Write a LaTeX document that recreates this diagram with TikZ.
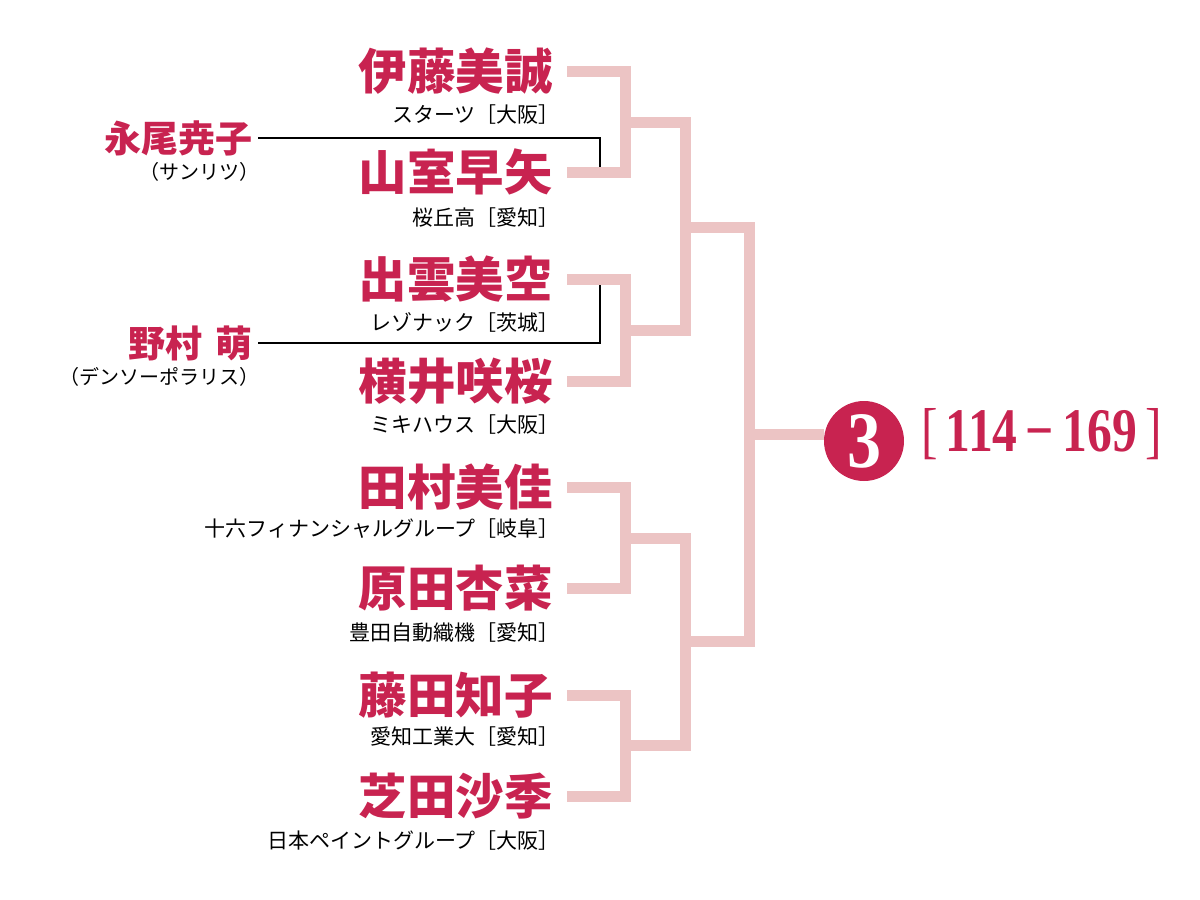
\documentclass[tikz,border=0pt]{standalone}
\usepackage{fontspec}
\newfontfamily\jpfont{Noto Sans CJK JP}
\newfontfamily\numfont{Liberation Serif}
\definecolor{crimson}{RGB}{200,35,80}
\definecolor{rosepink}{RGB}{236,196,196}
\tikzset{
  player/.style={anchor=east, inner sep=0pt, text=crimson, font=\jpfont\bfseries\fontsize{48.5}{48.5}\selectfont},
  club/.style={anchor=east, inner sep=0pt, font=\jpfont\fontsize{21}{21}\selectfont},
  seed/.style={anchor=east, inner sep=0pt, text=crimson, font=\jpfont\bfseries\fontsize{37}{37}\selectfont},
  seedclub/.style={anchor=east, inner sep=0pt, font=\jpfont\fontsize{20}{20}\selectfont},
  bracket/.style={rosepink, line width=11pt},
  byline/.style={black, line width=2pt}
}
\begin{document}
\begin{tikzpicture}[x=1pt, y=-1pt]
\useasboundingbox (0,0) rectangle (1200,900);

\node[player] (p1) at (553,71) {伊藤美誠};
\node[club] at (560,115) {スターツ［大阪］};
\node[player] (p2) at (553,172) {山室早矢};
\node[club] at (560,218) {桜丘高［愛知］};
\node[player] (p3) at (553,279) {出雲美空};
\node[club] at (560,322) {レゾナック［茨城］};
\node[player] (p4) at (553,381) {横井咲桜};
\node[club] at (560,425) {ミキハウス［大阪］};
\node[player] (p5) at (553,487) {田村美佳};
\node[club] at (560,529) {十六フィナンシャルグループ［岐阜］};
\node[player] (p6) at (553,588) {原田杏菜};
\node[club] at (560,633) {豊田自動織機［愛知］};
\node[player] (p7) at (553,695) {藤田知子};
\node[club] at (560,737) {愛知工業大［愛知］};
\node[player] (p8) at (553,796) {芝田沙季};
\node[club] at (560,841) {日本ペイントグループ［大阪］};
%players

\node[seed] (s1) at (253,138) {永尾尭子};
\node[seedclub] at (260,172) {（サンリツ）};
\node[seed] (s2) at (253,343) {野村\hspace{0.35em}萌};
\node[seedclub] at (260,377) {（デンソーポラリス）};
%first round

\coordinate (b1) at (600,166.5);
\coordinate (b2) at (600,284.5);
\draw[byline] ([xshift=5pt]s1.east) -| (b1);
\draw[byline] ([xshift=5pt]s2.east) -| (b2);

\coordinate (r1a) at (625,122);
\coordinate (r1b) at (625,330);
\coordinate (r1c) at (625,538);
\coordinate (r1d) at (625,745);
\coordinate (r2a) at (685,227);
\coordinate (r2b) at (685,641);
\coordinate (r3) at (749,434);
\draw[bracket] ([xshift=14pt]p1.east) -| (r1a) |- ([xshift=14pt]p2.east);
\draw[bracket] ([xshift=14pt]p3.east) -| (r1b) |- ([xshift=14pt]p4.east);
\draw[bracket] ([xshift=14pt]p5.east) -| (r1c) |- ([xshift=14pt]p6.east);
\draw[bracket] ([xshift=14pt]p7.east) -| (r1d) |- ([xshift=14pt]p8.east);
\draw[bracket] (r1a) -| (r2a) |- (r1b);
\draw[bracket] (r1c) -| (r2b) |- (r1d);
\draw[bracket] (r2a) -| (r3) |- (r2b);
%bracket

\node[circle, fill=crimson, minimum size=80pt, inner sep=0pt, text=white,
  font=\numfont\bfseries\fontsize{80}{80}\selectfont] (rank) at (864,441) {\scalebox{0.85}[1]{3}};
\draw[bracket] (r3) -- (r3 -| rank.west);
\node[anchor=west, inner sep=0pt, text=crimson, font=\numfont\fontsize{62}{62}\selectfont] (score) at (921,434)
  {\scalebox{0.8}[1]{[\,\textbf{114\,−\,169}\,]}};
%result
\end{tikzpicture}
\end{document}
